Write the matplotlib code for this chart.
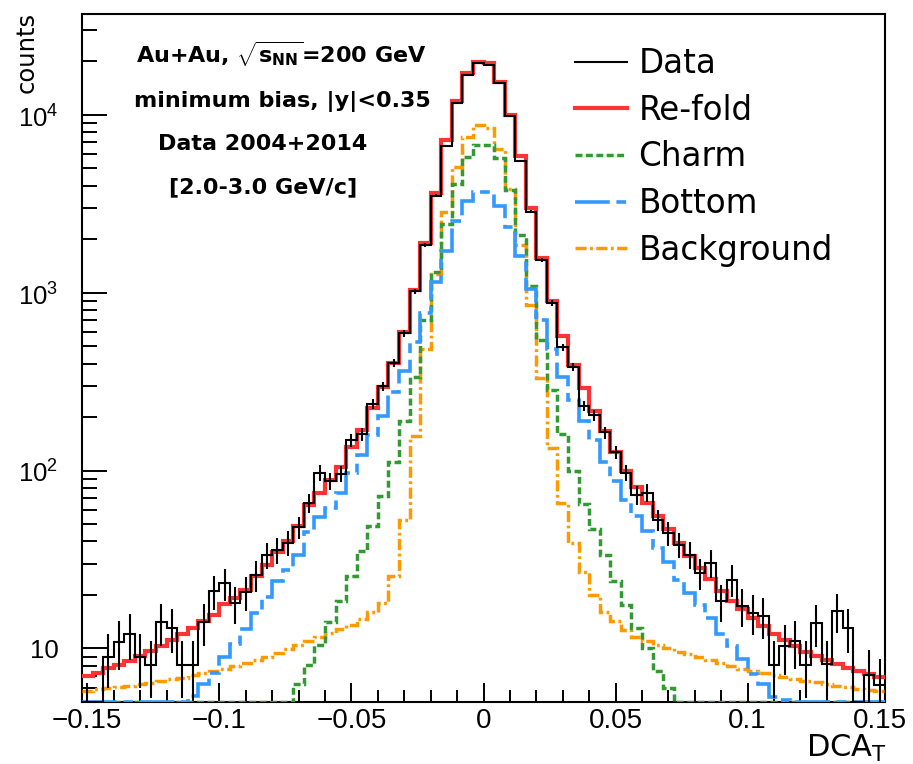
import numpy as np
import matplotlib
matplotlib.use("Agg")
import matplotlib.pyplot as plt
from matplotlib.lines import Line2D
from matplotlib.ticker import FixedLocator, FixedFormatter, LogLocator, MultipleLocator, NullFormatter

plt.rcParams['font.family'] = ['DejaVu Sans']
plt.rcParams['mathtext.fontset'] = 'custom'
plt.rcParams['mathtext.rm'] = 'Liberation Sans'
plt.rcParams['mathtext.bf'] = 'DejaVu Sans:bold'
plt.rcParams['lines.scale_dashes'] = False

# binning of DCA_T (76 bins of 0.004)
bin_lo = -0.152
bin_width = 0.004
n_bins = 76

# counts per bin (values below 5 sit under the frame)
data = [4.2, 0, 9.0, 10.9, 12.1, 9.0, 8.1, 14.0, 13.0, 8.1,
        8.1, 14.0, 21.0, 23.3, 18.0, 20.8, 26.0, 33.6, 36.0, 39.2,
        48, 66, 97, 87, 96, 148, 160, 236, 298, 404,
        590, 1020, 1860, 3520, 6650, 11700, 16800, 19500, 19100, 15100,
        9850, 5520, 2860, 1520, 877, 493, 384, 232, 205, 164,
        127, 97, 73, 75, 53, 44.5, 38.3, 33.7, 26.6, 30.3,
        18.4, 24.4, 17.3, 15.9, 15.2, 8.1, 10.3, 11.0, 8.1, 13.9,
        8.2, 16.2, 13.1, 0, 7.1, 6.2]

refold = [7.0, 7.3, 7.8, 8.1, 8.5, 9.1, 9.7, 10.3, 11.2, 12.0,
          13.1, 14.2, 15.5, 17.7, 19.3, 21.4, 25.5, 29.5, 35.0, 40.0,
          48.5, 64, 75, 88, 105, 136, 170, 226, 295, 403,
          605, 1030, 1900, 3650, 7180, 11900, 17100, 19900, 19500, 15400,
          10000, 5840, 2990, 1560, 898, 573, 393, 291, 216, 168,
          127, 99, 81, 66, 55.8, 46.8, 39.3, 33.0, 28.5, 24.5,
          21.0, 18.6, 16.6, 14.9, 13.4, 12.1, 11.1, 10.3, 9.6, 9.1,
          8.6, 8.2, 7.8, 7.5, 7.2, 6.9]

charm = [0.5, 0.6, 0.7, 0.8, 0.9, 1.0, 1.2, 1.4, 1.6, 1.9,
         2.1, 2.4, 2.7, 3.0, 3.3, 3.6, 3.9, 4.2, 4.5, 4.8,
         6.3, 8.1, 10.4, 14.1, 18.5, 25.7, 35.5, 49, 72, 112,
         190, 338, 700, 1306, 2440, 4100, 5800, 6750, 6800, 5720,
         3800, 2100, 1097, 545, 284, 160, 99, 65, 46.8, 33.5,
         24, 17.5, 13.1, 10.0, 7.5, 6.0, 4.6, 4.2, 3.8, 3.4,
         3.0, 2.7, 2.4, 2.1, 1.9, 1.7, 1.5, 1.3, 1.1, 1.0,
         0.9, 0.8, 0.7, 0.6, 0.5, 0.5]

bottom = [1.2, 1.4, 1.6, 1.9, 2.2, 2.6, 3.0, 3.5, 4.0, 4.6,
          5.4, 6.3, 7.3, 9.0, 10.6, 12.9, 15.8, 19.5, 24, 27.5,
          33.5, 45, 55, 62, 75, 97, 122, 158, 203, 275,
          365, 530, 765, 1150, 1720, 2520, 3260, 3700, 3680, 3080,
          2330, 1600, 1044, 700, 480, 338, 250, 190, 148, 112,
          87.5, 68, 55.8, 45.7, 36.5, 30.6, 24.4, 20.6, 17.5, 14.8,
          12.1, 10.3, 8.7, 7.2, 6.3, 5.3, 5.1, 4.4, 3.9, 3.4,
          3.0, 2.6, 2.3, 2.0, 1.7, 1.5]

background = [5.75, 5.9, 6.0, 6.1, 6.15, 6.3, 6.4, 6.55, 6.7, 6.85,
              7.05, 7.25, 7.45, 7.7, 7.95, 8.25, 8.6, 9.0, 9.45, 9.95,
              10.5, 11.0, 11.6, 12.2, 12.8, 13.6, 14.6, 16.0, 18.1, 25.7,
              53, 156, 480, 1276, 2840, 5060, 7550, 8750, 8450, 6450,
              3840, 1860, 854, 330, 134, 66, 39.3, 27, 20, 16,
              14.2, 12.7, 11.6, 11.0, 10.5, 10.0, 9.6, 9.3, 9.0, 8.6,
              8.3, 7.96, 7.7, 7.47, 7.24, 7.05, 6.87, 6.72, 6.59, 6.44,
              6.3, 6.17, 6.06, 5.94, 5.84, 5.73]

x_ticks = [-0.15, -0.1, -0.05, 0, 0.05, 0.1, 0.15]
x_tick_labels = ['\u22120.15', '\u22120.1', '\u22120.05', '0', '0.05', '0.1', '0.15']
y_ticks = [10, 100, 1000, 10000]
y_tick_labels = ['10', '$10^{2}$', '$10^{3}$', '$10^{4}$']

info_lines = [r'Au+Au, $\sqrt{\mathbf{s}_{\mathbf{NN}}}$=200 GeV',
              'minimum bias, |y|<0.35',
              'Data 2004+2014',
              '[2.0-3.0 GeV/c]']

ymin, ymax = 5, 3.69e4

edges = bin_lo + bin_width * np.arange(n_bins + 1)
centers = edges[:-1] + bin_width / 2

fig = plt.figure(figsize=(9.13, 7.64), dpi=100)
ax = fig.add_axes([82 / 913, 62 / 764, 803 / 913, 688 / 764])

# (label, values, colour, width, linestyle)
series = [
    ('Background', background, '#ff9900', 2.5, (0, (8, 2.5, 2, 2.5))),
    ('Charm', charm, '#339933', 2.5, (0, (5, 2.5))),
    ('Bottom', bottom, '#3399ff', 2.6, (0, (25, 4.8, 7, 4.8))),
    ('Re-fold', refold, '#ff3333', 3.0, '-'),
    ('Data', data, 'black', 1.5, '-'),
]

for label, vals, col, lw, ls in series:
    # like ROOT, bins under the frame are drawn on the bottom edge
    ax.stairs(np.clip(np.array(vals, float), ymin, None), edges, baseline=None,
              color=col, lw=lw, linestyle=ls, zorder=3)

d = np.array(data, float)
has = d > 0
ax.errorbar(centers[has], d[has], yerr=np.sqrt(d[has]), fmt='none',
            ecolor='black', elinewidth=1.5, zorder=4)

ax.set_yscale('log')
ax.set_xlim(edges[0], edges[-1])
ax.set_ylim(ymin, ymax)

ax.xaxis.set_major_locator(FixedLocator(x_ticks))
ax.xaxis.set_major_formatter(FixedFormatter(x_tick_labels))
ax.xaxis.set_minor_locator(MultipleLocator(0.01))
ax.yaxis.set_major_locator(FixedLocator(y_ticks))
ax.yaxis.set_major_formatter(FixedFormatter(y_tick_labels))
ax.yaxis.set_minor_locator(LogLocator(base=10, subs=np.arange(2, 10)))
ax.yaxis.set_minor_formatter(NullFormatter())

ax.tick_params(axis='x', which='major', direction='in', length=14, width=1.4, pad=4,
               labelsize=20, labelfontfamily='Liberation Sans')
ax.tick_params(axis='x', which='minor', direction='in', length=8.5, width=1.4)
ax.tick_params(axis='y', which='major', direction='in', length=18, width=1.4, pad=17,
               labelsize=18.5, labelfontfamily='Liberation Sans')
ax.tick_params(axis='y', which='minor', direction='in', length=10.5, width=1.4)
for sp in ax.spines.values():
    sp.set_linewidth(1.5)

fig.text(27 / 913, 1 - 12 / 764, 'counts', rotation=90, ha='center', va='top', fontsize=17.5)
fig.text(887 / 913, 1 - 757 / 764, r'DCA$_\mathregular{T}$', ha='right', va='baseline', fontsize=22)

info_x = [281, 282, 263, 263]
info_y = [63, 107, 150, 193]
for txt, xx, yy in zip(info_lines, info_x, info_y):
    fig.text(xx / 913, 1 - yy / 764, txt, ha='center', va='baseline',
             fontsize=16, fontweight='bold')

handles = [Line2D([], [], color=col, lw=lw, linestyle=ls) for _, _, col, lw, ls in series]
order = [4, 3, 1, 2, 0]
ax.legend([handles[i] for i in order], [series[i][0] for i in order],
          loc='upper left', bbox_to_anchor=(575 / 913, 1 - 47 / 764),
          bbox_transform=fig.transFigure, frameon=False, fontsize=23.5,
          handlelength=1.6, handletextpad=0.34, labelspacing=0.42,
          borderpad=0, borderaxespad=0)

fig.savefig('out.png', dpi=100)
